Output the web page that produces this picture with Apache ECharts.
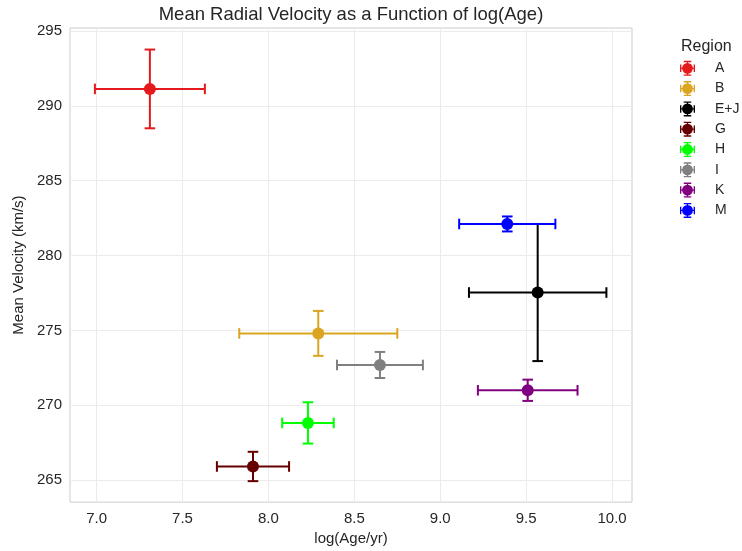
<!DOCTYPE html>
<html>
<head>
<meta charset="utf-8">
<script src="https://cdn.jsdelivr.net/npm/echarts@6/dist/echarts.min.js"></script>
<style>
    html, body { margin: 0; padding: 0; background: #fff; }
    #main { width: 742px; height: 551px; }
</style>
</head>
<body>
<div id="main"></div>
<script>
// 数据
var regions = ['A', 'B', 'E+J', 'G', 'H', 'I', 'K', 'M'];
var logAge = [7.31, 8.29, 9.567, 7.91, 8.23, 8.649, 9.509, 9.39];
var ageErr = [0.32, 0.46, 0.40, 0.21, 0.15, 0.25, 0.29, 0.28];
var meanVel = [291.13, 274.8, 277.53, 265.91, 268.82, 272.69, 271.0, 282.11];
var velErr = [2.63, 1.5, 4.58, 0.98, 1.38, 0.87, 0.71, 0.5];
var colors = ['#e41a1c', '#daa520', '#000000', '#660000', '#00ff00', '#808080', '#800080', '#0000ff'];
var xTicks = [7.0, 7.5, 8.0, 8.5, 9.0, 9.5, 10.0];
var yTicks = [265, 270, 275, 280, 285, 290, 295];

var font = '"Liberation Sans", Arial, sans-serif';

// 图例图标: 误差棒 + 圆点
var errIcon = 'path://M1 9.2h18v1.6H1z M9.2 1h1.6v18H9.2z M1 5.5h1.6v9H1z M17.4 5.5h1.6v9h-1.6z M5.5 1h9v1.6h-9z M5.5 17.4h9V19h-9z M16.5 10A6.5 6.5 0 1 1 3.5 10A6.5 6.5 0 1 1 16.5 10z';

function renderErr(params, api) {
    var x = api.value(0), y = api.value(1), xe = api.value(2), ye = api.value(3);
    var c = api.coord([x, y]);
    var l = api.coord([x - xe, y]);
    var r = api.coord([x + xe, y]);
    var t = api.coord([x, y + ye]);
    var b = api.coord([x, y - ye]);
    var cap = 5.3;
    var st = { stroke: api.visual('color'), lineWidth: 2 };
    var lines = [
        [l[0], c[1], r[0], c[1]],
        [l[0], c[1] - cap, l[0], c[1] + cap],
        [r[0], c[1] - cap, r[0], c[1] + cap],
        [c[0], t[1], c[0], b[1]],
        [c[0] - cap, t[1], c[0] + cap, t[1]],
        [c[0] - cap, b[1], c[0] + cap, b[1]]
    ];
    return {
        type: 'group',
        children: lines.map(function (p) {
            return { type: 'line', shape: { x1: p[0], y1: p[1], x2: p[2], y2: p[3] }, style: st };
        })
    };
}

var series = [];
var legendData = [];
for (var i = 0; i < regions.length; i++) {
    series.push({
        name: regions[i],
        type: 'custom',
        renderItem: renderErr,
        itemStyle: { color: colors[i] },
        encode: { x: 0, y: 1 },
        data: [[logAge[i], meanVel[i], ageErr[i], velErr[i]]],
        z: 2
    });
    series.push({
        name: regions[i],
        type: 'scatter',
        symbolSize: 12,
        itemStyle: { color: colors[i], opacity: 1 },
        data: [[logAge[i], meanVel[i]]],
        z: 3
    });
    legendData.push({ name: regions[i], icon: errIcon, itemStyle: { color: colors[i] } });
}

var myChart = echarts.init(document.getElementById('main'));

var option = {
    animation: false,
    title: [{
        text: 'Mean Radial Velocity as a Function of log(Age)',
        left: 351,
        textAlign: 'center',
        top: 5,
        padding: 0,
        textStyle: { fontFamily: font, fontSize: 18.5, fontWeight: 'normal', color: '#262626' }
    }, {
        text: 'Region',
        left: 681,
        top: 39,
        padding: 0,
        textStyle: { fontFamily: font, fontSize: 16, fontWeight: 'normal', color: '#262626' }
    }],
    legend: {
        orient: 'vertical',
        left: 680,
        top: 60.8,
        padding: 0,
        itemWidth: 15,
        itemHeight: 15,
        itemGap: 5.3,
        data: legendData,
        textStyle: { fontFamily: font, fontSize: 14, color: '#262626', padding: [0, 0, 0, 15] }
    },
    grid: {
        left: 70, right: 110, top: 28, bottom: 48,
        show: true, borderColor: '#cccccc', borderWidth: 1
    },
    xAxis: {
        type: 'value',
        min: 6.845,
        max: 10.116,
        name: 'log(Age/yr)',
        nameLocation: 'middle',
        nameGap: 27,
        nameTextStyle: { fontFamily: font, fontSize: 15, color: '#262626' },
        axisLine: { show: false },
        axisTick: { show: false, customValues: xTicks },
        axisLabel: {
            customValues: xTicks,
            fontFamily: font, fontSize: 15, color: '#262626', margin: 9,
            formatter: function (v) { return v.toFixed(1); }
        },
        splitLine: { show: true, lineStyle: { color: '#ebebeb', width: 1 } }
    },
    yAxis: {
        type: 'value',
        min: 263.53,
        max: 295.2,
        name: 'Mean Velocity (km/s)',
        nameLocation: 'middle',
        nameGap: 40,
        nameTextStyle: { fontFamily: font, fontSize: 15, color: '#262626' },
        axisLine: { show: false },
        axisTick: { show: false, customValues: yTicks },
        axisLabel: {
            customValues: yTicks,
            fontFamily: font, fontSize: 15, color: '#262626', margin: 8
        },
        splitLine: { show: true, lineStyle: { color: '#ebebeb', width: 1 } }
    },
    series: series
};

myChart.setOption(option);
</script>
</body>
</html>
